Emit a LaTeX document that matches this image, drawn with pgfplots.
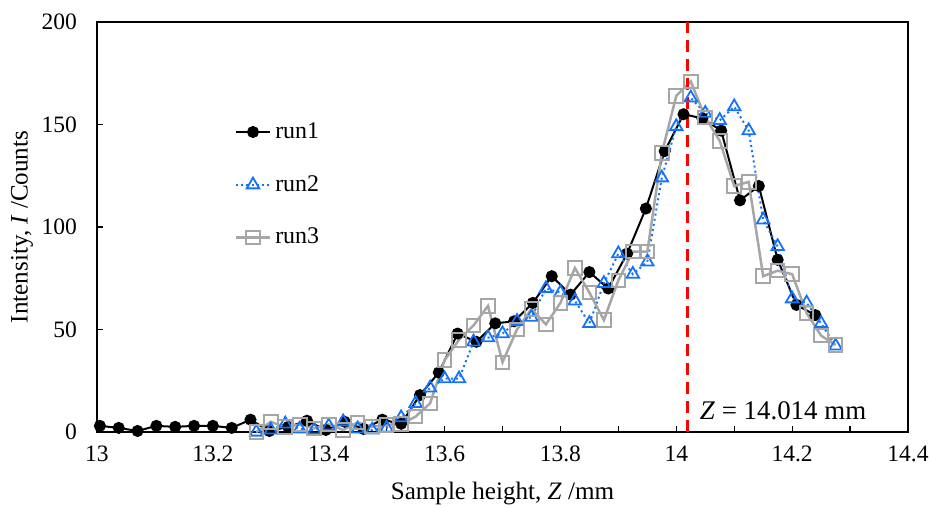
\documentclass[border=0pt]{standalone}
\usepackage{fontspec}
\setmainfont{Liberation Serif}
\usepackage{pgfplots}
\pgfplotsset{compat=1.18}

\definecolor{runblue}{RGB}{20,115,250}
\definecolor{rungray}{RGB}{166,166,166}
\definecolor{zred}{RGB}{255,0,0}

\begin{document}
\begin{tikzpicture}[font=\fontsize{11.8}{13.5}\selectfont]
\begin{axis}[
  scale only axis,
  width=405.5bp, height=205bp,
  xmin=13, xmax=14.4, ymin=0, ymax=200,
  xtick={13,13.2,...,14.4},
  minor xtick={13.1,13.3,13.5,13.7,13.9,14.1,14.3},
  ytick={0,50,100,150,200},
  xtick pos=bottom, ytick pos=left,
  tick align=inside,
  major tick length=3bp, minor tick length=3bp,
  tick style={black, line width=0.6bp},
  axis line style={line width=0.7bp},
  scaled x ticks=false,
  /pgf/number format/assume math mode=true,
  xticklabel style={/pgf/number format/fixed, /pgf/number format/precision=1, yshift=-3.5bp},
  yticklabel style={xshift=-6.5bp},
  xlabel={Sample height, \textit{Z} /mm},
  ylabel={Intensity, \textit{I} /Counts},
  label style={font=\fontsize{12.6}{14}\selectfont},
  xlabel style={at={(axis description cs:0.5,-0.149)}, anchor=center},
  ylabel style={at={(axis description cs:-0.0925,0.5)}, anchor=center},
  clip=false,
  legend style={at={(axis description cs:0.162,0.775)}, anchor=north west,
    draw=none, fill=none, row sep=13bp, font=\fontsize{12}{13.5}\selectfont},
  legend cell align=left,
]
% run1
\addplot[black, line width=1bp, mark=*, mark size=2.5bp, mark options={solid, fill=black}]
  coordinates {
  (13.005,3) (13.0375,2) (13.07,0.5) (13.1025,3) (13.135,2.5) (13.1675,3)
  (13.2,3) (13.2325,2) (13.265,6) (13.2975,0.5) (13.33,2.5) (13.3625,5.5)
  (13.395,1) (13.4275,5) (13.46,1.5) (13.4925,6) (13.525,4) (13.5575,18)
  (13.59,29) (13.6225,48) (13.655,44) (13.6875,53) (13.72,54) (13.7525,63)
  (13.785,76) (13.8175,67) (13.85,78) (13.8825,70) (13.915,87) (13.9475,109)
  (13.98,137) (14.0125,155) (14.045,153) (14.0775,147) (14.11,113) (14.1425,120)
  (14.175,84) (14.2075,62) (14.24,57)
  };
\addlegendentry{run1}
% run2
\addplot[runblue, line width=1bp, dash pattern=on 1bp off 1.6bp, mark=triangle, mark size=3.6bp,
  mark options={solid, draw=runblue, fill=white, line width=0.9bp}]
  coordinates {
  (13.275,0) (13.3,1) (13.325,4) (13.35,1.5) (13.375,1) (13.4,3)
  (13.425,5) (13.45,1.5) (13.475,1) (13.5,2) (13.525,7) (13.55,14)
  (13.575,21.5) (13.6,26) (13.625,26) (13.65,44) (13.675,46) (13.7,48)
  (13.725,54) (13.75,56) (13.775,70) (13.8,68) (13.825,64) (13.85,53)
  (13.875,72.5) (13.9,87) (13.925,77) (13.95,83) (13.975,124) (14,149)
  (14.025,163) (14.05,155.5) (14.075,152) (14.1,158.7) (14.125,147) (14.15,103.5)
  (14.175,90.5) (14.2,65) (14.225,63) (14.25,53) (14.275,42)
  };
\addlegendentry{run2}
% run3
\addplot[rungray, line width=1.25bp, mark=square, mark size=3.4bp,
  mark options={solid, draw=rungray, fill=white, line width=1bp}]
  coordinates {
  (13.275,0) (13.3,5) (13.325,2.3) (13.35,3.7) (13.375,1.8) (13.4,3.7)
  (13.425,1) (13.45,4.7) (13.475,2.6) (13.5,3.4) (13.525,3.9) (13.55,7.5)
  (13.575,14) (13.6,35) (13.625,45) (13.65,52) (13.675,61.5) (13.7,34)
  (13.725,50) (13.75,60) (13.775,52.5) (13.8,63) (13.825,80) (13.85,68)
  (13.875,54.6) (13.9,74) (13.925,88) (13.95,88) (13.975,136) (14,164)
  (14.025,171) (14.05,153.5) (14.075,142) (14.1,120) (14.125,122) (14.15,76)
  (14.175,78.7) (14.2,77) (14.225,58) (14.25,47) (14.275,42.4)
  };
\addlegendentry{run3}
% peak position
\addplot[zred, line width=1.5bp, dash pattern=on 6bp off 3.5bp, forget plot]
  coordinates {(14.019,0) (14.019,200)};
\node[anchor=west, inner sep=0pt, font=\fontsize{13.5}{15}\selectfont]
  at (axis cs:14.04,10.5) {\textit{Z} = 14.014 mm};
\end{axis}
\pgfresetboundingbox
\path ([shift={(-48.5bp,-37.5bp)}]current axis.south west)
  rectangle ([shift={(11.5bp,11bp)}]current axis.north east);
\end{tikzpicture}
\end{document}
